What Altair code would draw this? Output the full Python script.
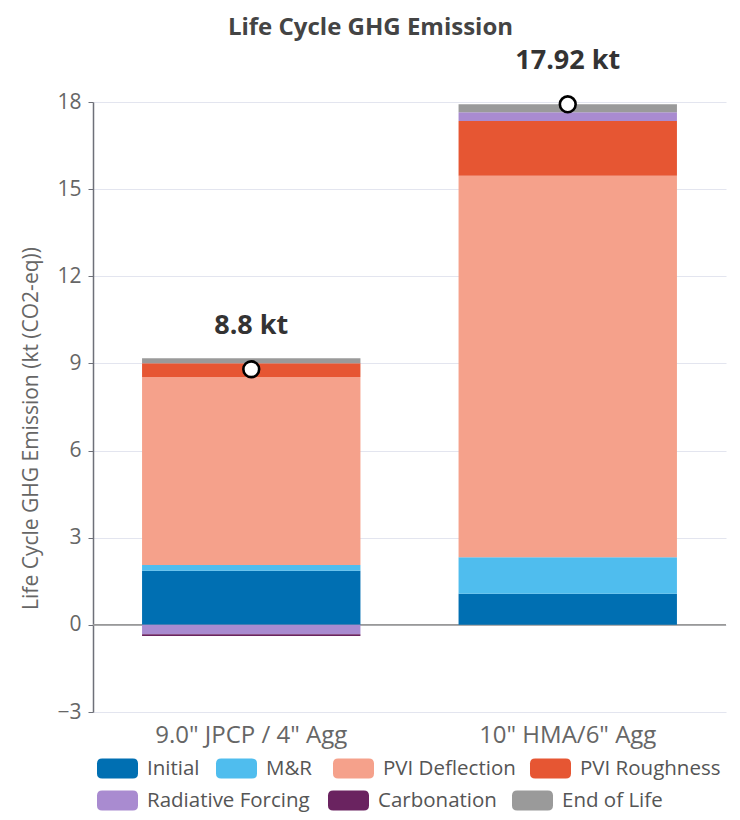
import altair as alt
import pandas as pd

categories = ['9.0" JPCP / 4" Agg', '10" HMA/6" Agg']
components = ["Initial", "M&R", "PVI Deflection", "PVI Roughness",
              "Radiative Forcing", "Carbonation", "End of Life"]
colors = ["#006fb2", "#4fbdee", "#f5a18b", "#e65633", "#a98bd0", "#6a2360", "#9a9a9a"]
jpcp_values = [1.86, 0.20, 6.47, 0.48, -0.32, -0.06, 0.17]
hma_values = [1.07, 1.26, 13.13, 1.89, 0.30, 0.0, 0.27]
totals = [8.8, 17.92]
total_labels = ["8.8 kt", "17.92 kt"]
y_ticks = [-3, 0, 3, 6, 9, 12, 15, 18]

# legend placement (flow layout like the original), relative to plot origin
legend_x = [4, 123, 240, 437, 4, 235, 419]
legend_y = [646, 646, 646, 646, 678, 678, 678]

FONT = "Open Sans"
Y_TITLE = "Life Cycle GHG Emission (kt (CO2-eq))"

# stacked extents (positives upward, negatives downward, in component order)
rows = []
for cat, vals in zip(categories, [jpcp_values, hma_values]):
    pos, neg = 0.0, 0.0
    for comp, v in zip(components, vals):
        if v >= 0:
            y0, y1 = pos, pos + v
            pos = y1
        else:
            y0, y1 = neg, neg + v
            neg = y1
        rows.append({"Design": cat, "Component": comp, "Value": v, "y0": y0, "y1": y1})
df = pd.DataFrame(rows)
tot_df = pd.DataFrame({"Design": categories, "Total": totals, "Label": total_labels})
zero_df = pd.DataFrame({"y": [0]})

legend_path = ("M-0.75,-0.49 L0.75,-0.49 Q1,-0.49 1,-0.24 L1,0.24 Q1,0.49 0.75,0.49 "
               "L-0.75,0.49 Q-1,0.49 -1,0.24 L-1,-0.24 Q-1,-0.49 -0.75,-0.49 Z")

x_enc = alt.X("Design:N", sort=categories, title=None,
              scale=alt.Scale(paddingInner=0, paddingOuter=0),
              axis=alt.Axis(labelAngle=0, domain=False, ticks=False, labelPadding=11,
                            labelFontSize=24, labelColor="#666", labelFont=FONT,
                            labelLimit=500))

y_scale = alt.Scale(domain=[-3, 18], nice=False, zero=False)
y_axis = alt.Axis(values=y_ticks, domain=True, domainColor="#6e7079", domainWidth=1.5,
                  ticks=True, tickColor="#6e7079", tickSize=5, grid=True,
                  gridColor="#e3e5ef", labelFontSize=21, labelColor="#666",
                  labelFont=FONT, labelPadding=7, titleFontSize=21,
                  titleColor="#666", titleFont=FONT, titleFontWeight="normal",
                  titleY=326, titleX=-52)


def y_enc(field):
    return alt.Y(field, type="quantitative", scale=y_scale, title=Y_TITLE, axis=y_axis)


zero_rule = alt.Chart(zero_df).mark_rule(color="#999", strokeWidth=1.8).encode(
    y=y_enc("y")
)

bar_layers = []
for i, comp in enumerate(components):
    layer = alt.Chart(df[df["Component"] == comp]).mark_bar(
        width={"band": 0.69}
    ).encode(
        x=x_enc,
        y=y_enc("y0"),
        y2="y1:Q",
        color=alt.Color("Component:N",
                        scale=alt.Scale(domain=[comp], range=[colors[i]]),
                        legend=alt.Legend(title=None, orient="none",
                                          legendX=legend_x[i], legendY=legend_y[i],
                                          symbolType=legend_path, symbolSize=1681,
                                          symbolStrokeWidth=0, symbolOpacity=1,
                                          labelFontSize=20.5, labelColor="#555",
                                          labelFont=FONT, labelOffset=9, padding=0,
                                          labelLimit=300)),
    )
    bar_layers.append(layer)

points = alt.Chart(tot_df).mark_point(
    shape="circle", size=250, fill="white", stroke="black", strokeWidth=2.6,
    opacity=1, fillOpacity=1, filled=False
).encode(
    x=x_enc,
    y=y_enc("Total"),
)

labels = alt.Chart(tot_df).mark_text(
    dy=-43, fontSize=27, fontWeight="bold", color="#333", font=FONT
).encode(
    x=x_enc,
    y=y_enc("Total"),
    text="Label:N",
)

chart = alt.layer(zero_rule, *bar_layers, points, labels).resolve_scale(
    color="independent"
).properties(
    width=633, height=610,
    title=alt.TitleParams("Life Cycle GHG Emission", fontSize=24, fontWeight="bold",
                          color="#444", font=FONT, anchor="middle", frame="group",
                          offset=7, dx=-39),
    autosize=alt.AutoSizeParams(type="none"),
    padding={"left": 85, "top": 94, "right": 6, "bottom": 100},
).configure_view(stroke=None)

chart.save("out.html", embed_options={"renderer": "svg", "actions": False})
